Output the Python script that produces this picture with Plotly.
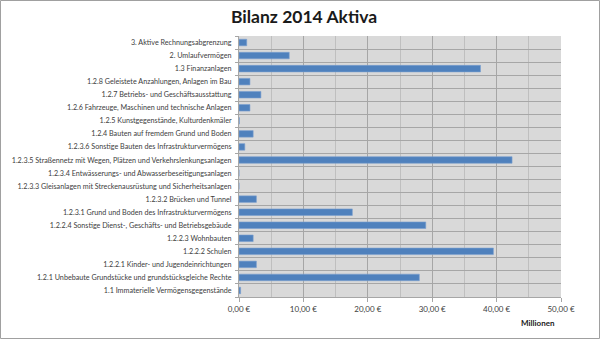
import plotly.graph_objects as go

categories = [
    "1.1 Immaterielle Vermögensgegenstände",
    "1.2.1 Unbebaute Grundstücke und grundstücksgleiche Rechte",
    "1.2.2.1 Kinder- und Jugendeinrichtungen",
    "1.2.2.2 Schulen",
    "1.2.2.3 Wohnbauten",
    "1.2.2.4 Sonstige Dienst-, Geschäfts- und Betriebsgebäude",
    "1.2.3.1 Grund und Boden des Infrastrukturvermögens",
    "1.2.3.2 Brücken und Tunnel",
    "1.2.3.3 Gleisanlagen mit Streckenausrüstung und Sicherheitsanlagen",
    "1.2.3.4 Entwässerungs- und Abwasserbeseitigungsanlagen",
    "1.2.3.5 Straßennetz mit Wegen, Plätzen und Verkehrslenkungsanlagen",
    "1.2.3.6 Sonstige Bauten des Infrastrukturvermögens",
    "1.2.4 Bauten auf fremdem Grund und Boden",
    "1.2.5 Kunstgegenstände, Kulturdenkmäler",
    "1.2.6 Fahrzeuge, Maschinen und technische Anlagen",
    "1.2.7 Betriebs- und Geschäftsausstattung",
    "1.2.8 Geleistete Anzahlungen, Anlagen im Bau",
    "1.3 Finanzanlagen",
    "2. Umlaufvermögen",
    "3. Aktive Rechnungsabgrenzung",
]
values_mio = [0.25, 28.0, 2.7, 39.5, 2.2, 29.0, 17.6, 2.7, 0.0, 0.0,
              42.4, 0.9, 2.2, 0.05, 1.7, 3.4, 1.7, 37.5, 7.8, 1.2]
tick_vals = [0, 10, 20, 30, 40, 50]
tick_text = ["0,00 €", "10,00 €", "20,00 €", "30,00 €", "40,00 €", "50,00 €"]

FONT = "Lato, Open Sans, sans-serif"
L, R, T, B = 239, 39, 36, 42
W, H = 600, 339
pw, ph = W - L - R, H - T - B

fig = go.Figure(go.Bar(
    x=values_mio, y=categories, orientation="h",
    marker=dict(color="#4f81bd", line=dict(color="#7a9fd0", width=0.6)),
))

fig.update_layout(
    width=W, height=H,
    margin=dict(l=L, r=R, t=T, b=B, autoexpand=False),
    paper_bgcolor="white", plot_bgcolor="#d9d9d9",
    bargap=0.5, showlegend=False,
    font=dict(family=FONT, size=7.2, color="#404040"),
    title=dict(text="<b>Bilanz 2014 Aktiva</b>", x=(304 - L) / pw * 0 + 304 / W,
               xref="paper", xanchor="center",
               y=1 - 17 / H, yanchor="middle",
               font=dict(family=FONT, size=17.5, color="#1a1a1a")),
    xaxis=dict(range=[0, 50], tickvals=tick_vals, ticktext=tick_text,
               showgrid=True, gridcolor="#a6a6a6", gridwidth=1,
               minor=dict(dtick=5, tick0=0, showgrid=True, gridcolor="#bfbfbf", gridwidth=1),
               zeroline=False, showline=True, linecolor="#a6a6a6",
               ticks="outside", ticklen=4, tickcolor="#a6a6a6",
               tickfont=dict(size=8, color="#404040"), fixedrange=True,
               automargin=False),
    yaxis=dict(type="category", tickson="boundaries", showgrid=True,
               gridcolor="#a6a6a6", gridwidth=1, showline=True, linecolor="#a6a6a6",
               ticks="outside", ticklen=3, tickcolor="#a6a6a6",
               ticklabelstandoff=5,
               tickfont=dict(size=7.2, color="#404040"), fixedrange=True,
               automargin=False,
               range=[-0.5, len(categories) - 0.5]),
)
fig.update_layout(title=dict(xref="container", x=304 / W))

fig.add_annotation(text="<b>Millionen</b>", xref="paper", yref="paper",
                   x=(538 - L) / pw, y=-(323 - (T + ph)) / ph,
                   xanchor="center", yanchor="middle", showarrow=False,
                   font=dict(family=FONT, size=8, color="#1a1a1a"))

fig.add_shape(type="rect", xref="paper", yref="paper",
              x0=-(L - 0.5) / pw, x1=1 + (R - 0.5) / pw,
              y0=-(B - 0.5) / ph, y1=1 + (T - 0.5) / ph,
              line=dict(color="#a0a0a0", width=1), fillcolor="rgba(0,0,0,0)", layer="above")

fig.write_html("out.html")
